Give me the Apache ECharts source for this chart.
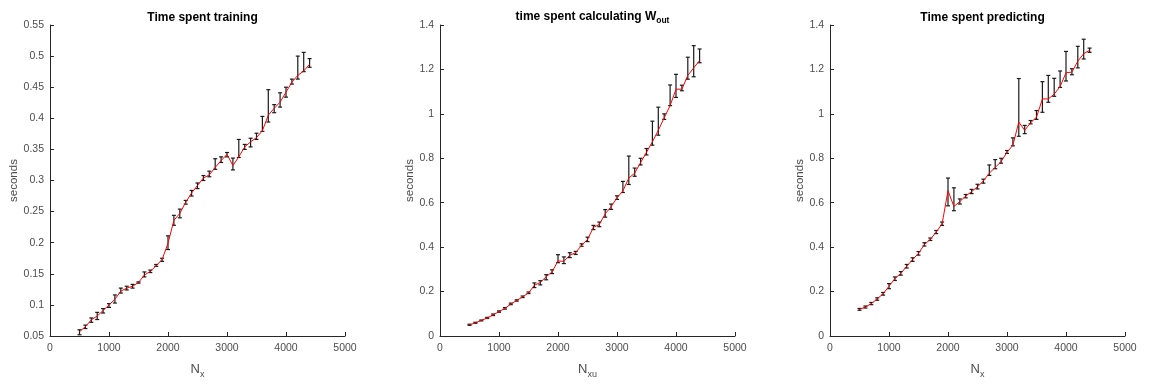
<!DOCTYPE html>
<html><head><meta charset="utf-8">
<script src="https://cdn.jsdelivr.net/npm/echarts@6/dist/echarts.min.js"></script>
<style>html,body{margin:0;padding:0;background:#fff}#c{width:1149px;height:384px}</style>
</head><body><div id="c"></div>
<script>
const N = [500,600,700,800,900,1000,1100,1200,1300,1400,1500,1600,1700,1800,1900,2000,2100,2200,2300,2400,2500,2600,2700,2800,2900,3000,3100,3200,3300,3400,3500,3600,3700,3800,3900,4000,4100,4200,4300,4400];

const trainMean = [0.057,0.065,0.076,0.082,0.091,0.100,0.109,0.122,0.127,0.130,0.136,0.148,0.154,0.163,0.173,0.199,0.236,0.247,0.265,0.280,0.292,0.304,0.309,0.321,0.332,0.342,0.324,0.338,0.354,0.362,0.369,0.380,0.405,0.416,0.426,0.442,0.458,0.469,0.476,0.487];
const trainLow  = [0.052,0.062,0.072,0.0765,0.087,0.096,0.103,0.119,0.124,0.127,0.135,0.145,0.152,0.162,0.170,0.189,0.228,0.240,0.262,0.275,0.287,0.300,0.306,0.318,0.329,0.338,0.317,0.337,0.350,0.354,0.366,0.379,0.394,0.409,0.418,0.434,0.455,0.463,0.475,0.482];
const trainHigh = [0.060,0.0675,0.079,0.088,0.094,0.102,0.116,0.127,0.130,0.133,0.137,0.153,0.156,0.165,0.175,0.211,0.244,0.254,0.268,0.284,0.296,0.308,0.315,0.335,0.338,0.345,0.336,0.366,0.358,0.368,0.376,0.403,0.446,0.422,0.441,0.450,0.463,0.500,0.506,0.496];

const woutMean = [0.050,0.059,0.070,0.081,0.095,0.110,0.124,0.144,0.160,0.176,0.194,0.228,0.241,0.267,0.289,0.338,0.336,0.364,0.375,0.409,0.434,0.489,0.502,0.550,0.582,0.622,0.653,0.711,0.733,0.781,0.827,0.874,0.926,0.982,1.037,1.111,1.111,1.173,1.207,1.240];
const woutLow  = [0.048,0.057,0.068,0.079,0.092,0.107,0.121,0.141,0.157,0.173,0.191,0.218,0.230,0.253,0.281,0.330,0.326,0.353,0.367,0.404,0.425,0.479,0.492,0.535,0.570,0.615,0.646,0.682,0.719,0.770,0.815,0.859,0.904,0.975,1.037,1.074,1.104,1.156,1.167,1.230];
const woutHigh = [0.053,0.062,0.072,0.084,0.099,0.113,0.128,0.148,0.163,0.180,0.198,0.239,0.249,0.276,0.298,0.366,0.356,0.375,0.381,0.415,0.445,0.498,0.513,0.569,0.594,0.631,0.696,0.810,0.756,0.800,0.844,0.967,1.030,1.000,1.130,1.178,1.129,1.255,1.307,1.292];

const predMean = [0.120,0.130,0.146,0.167,0.190,0.224,0.258,0.282,0.314,0.344,0.372,0.412,0.435,0.468,0.505,0.654,0.583,0.605,0.630,0.650,0.672,0.698,0.733,0.759,0.785,0.827,0.859,0.963,0.926,0.960,0.985,1.067,1.067,1.089,1.123,1.185,1.188,1.237,1.271,1.286];
const predLow  = [0.116,0.126,0.141,0.161,0.184,0.213,0.250,0.274,0.306,0.336,0.364,0.405,0.430,0.461,0.498,0.586,0.564,0.594,0.622,0.641,0.662,0.688,0.723,0.753,0.778,0.822,0.856,0.899,0.911,0.955,0.975,1.007,1.052,1.079,1.119,1.148,1.176,1.207,1.247,1.277];
const predHigh = [0.124,0.135,0.151,0.172,0.196,0.236,0.266,0.290,0.322,0.352,0.380,0.420,0.441,0.475,0.513,0.711,0.667,0.617,0.637,0.660,0.683,0.706,0.770,0.794,0.800,0.835,0.892,1.159,0.948,0.970,1.015,1.145,1.173,1.160,1.193,1.281,1.203,1.304,1.336,1.296];

const titles = ['Time spent training', 'time spent calculating W{sub|out}', 'Time spent predicting'];
const xNames = ['N{sub|x}', 'N{sub|xu}', 'N{sub|x}'];
const yName = 'seconds';
const xTicks = {min: 0, max: 5000, interval: 1000};
const yTicks = [{min: 0.05, max: 0.55, interval: 0.05}, {min: 0, max: 1.4, interval: 0.2}, {min: 0, max: 1.4, interval: 0.2}];

const FONT = '"Liberation Sans", Arial, Helvetica, sans-serif';
const lefts = [50, 440, 830];
const W = 295, TOP = 25, H = 316;
const AX = '#262626', LBL = '#4d4d4d';

const chart = echarts.init(document.getElementById('c'), null, {renderer: 'canvas'});

const grids = lefts.map(l => ({left: l, top: TOP, width: W, height: H, containLabel: false}));
const xAxes = lefts.map((l, i) => ({
  type: 'value', gridIndex: i, min: xTicks.min, max: xTicks.max, interval: xTicks.interval,
  splitLine: {show: false},
  axisLine: {show: true, lineStyle: {color: AX, width: 1}},
  axisTick: {show: true, inside: true, length: 4, lineStyle: {color: AX}},
  axisLabel: {color: LBL, fontSize: 10.5, fontFamily: FONT, margin: 7, formatter: v => String(v)},
  name: xNames[i], nameLocation: 'middle', nameGap: 24,
  nameTextStyle: {color: LBL, fontSize: 13, fontFamily: FONT,
    rich: {sub: {fontSize: 9, fontFamily: FONT, color: LBL, padding: [10, 0, 0, 0]}}}
}));
const yAxes = lefts.map((l, i) => ({
  type: 'value', gridIndex: i, min: yTicks[i].min, max: yTicks[i].max, interval: yTicks[i].interval,
  splitLine: {show: false},
  axisLine: {show: true, lineStyle: {color: AX, width: 1}},
  axisTick: {show: true, inside: true, length: 4, lineStyle: {color: AX}},
  axisLabel: {color: LBL, fontSize: 10.5, fontFamily: FONT, margin: 6,
    formatter: v => String(parseFloat(v.toFixed(2)))},
  name: yName, nameLocation: 'middle', nameGap: i === 0 ? 29 : 24, nameRotate: 90,
  nameTextStyle: {color: LBL, fontSize: 11.5, fontFamily: FONT}
}));

const titleOpts = lefts.map((l, i) => ({
  text: titles[i], left: l + W / 2, top: i === 1 ? 3 : 7, textAlign: 'center',
  textStyle: {fontSize: 12, fontWeight: 'bold', color: '#000', fontFamily: FONT,
    rich: {sub: {fontSize: 8.5, fontWeight: 'bold', color: '#000', fontFamily: FONT, padding: [8, 0, 0, 0]}}}
}));

function errSeries(i, lo, hi) {
  return {
    type: 'custom', xAxisIndex: i, yAxisIndex: i, z: 2,
    data: N.map((n, k) => [n, lo[k], hi[k]]),
    encode: {x: 0, y: [1, 2]},
    renderItem: (params, api) => {
      const x = api.value(0);
      const p1 = api.coord([x, api.value(1)]);
      const p2 = api.coord([x, api.value(2)]);
      const cw = 2;
      const st = {stroke: '#1a1a1a', lineWidth: 1.2};
      return {type: 'group', children: [
        {type: 'line', shape: {x1: p1[0], y1: p1[1], x2: p2[0], y2: p2[1]}, style: st},
        {type: 'line', shape: {x1: p1[0] - cw, y1: p1[1], x2: p1[0] + cw, y2: p1[1]}, style: st},
        {type: 'line', shape: {x1: p2[0] - cw, y1: p2[1], x2: p2[0] + cw, y2: p2[1]}, style: st}
      ]};
    }
  };
}
function lineSeries(i, mean) {
  return {type: 'line', xAxisIndex: i, yAxisIndex: i, z: 3, showSymbol: false, silent: true,
    data: N.map((n, k) => [n, mean[k]]), lineStyle: {color: '#ff0000', width: 1}, itemStyle: {color: '#ff0000'}};
}

chart.setOption({
  animation: false,
  title: titleOpts,
  grid: grids, xAxis: xAxes, yAxis: yAxes,
  series: [
    errSeries(0, trainLow, trainHigh), lineSeries(0, trainMean),
    errSeries(1, woutLow, woutHigh), lineSeries(1, woutMean),
    errSeries(2, predLow, predHigh), lineSeries(2, predMean)
  ]
});
</script></body></html>
